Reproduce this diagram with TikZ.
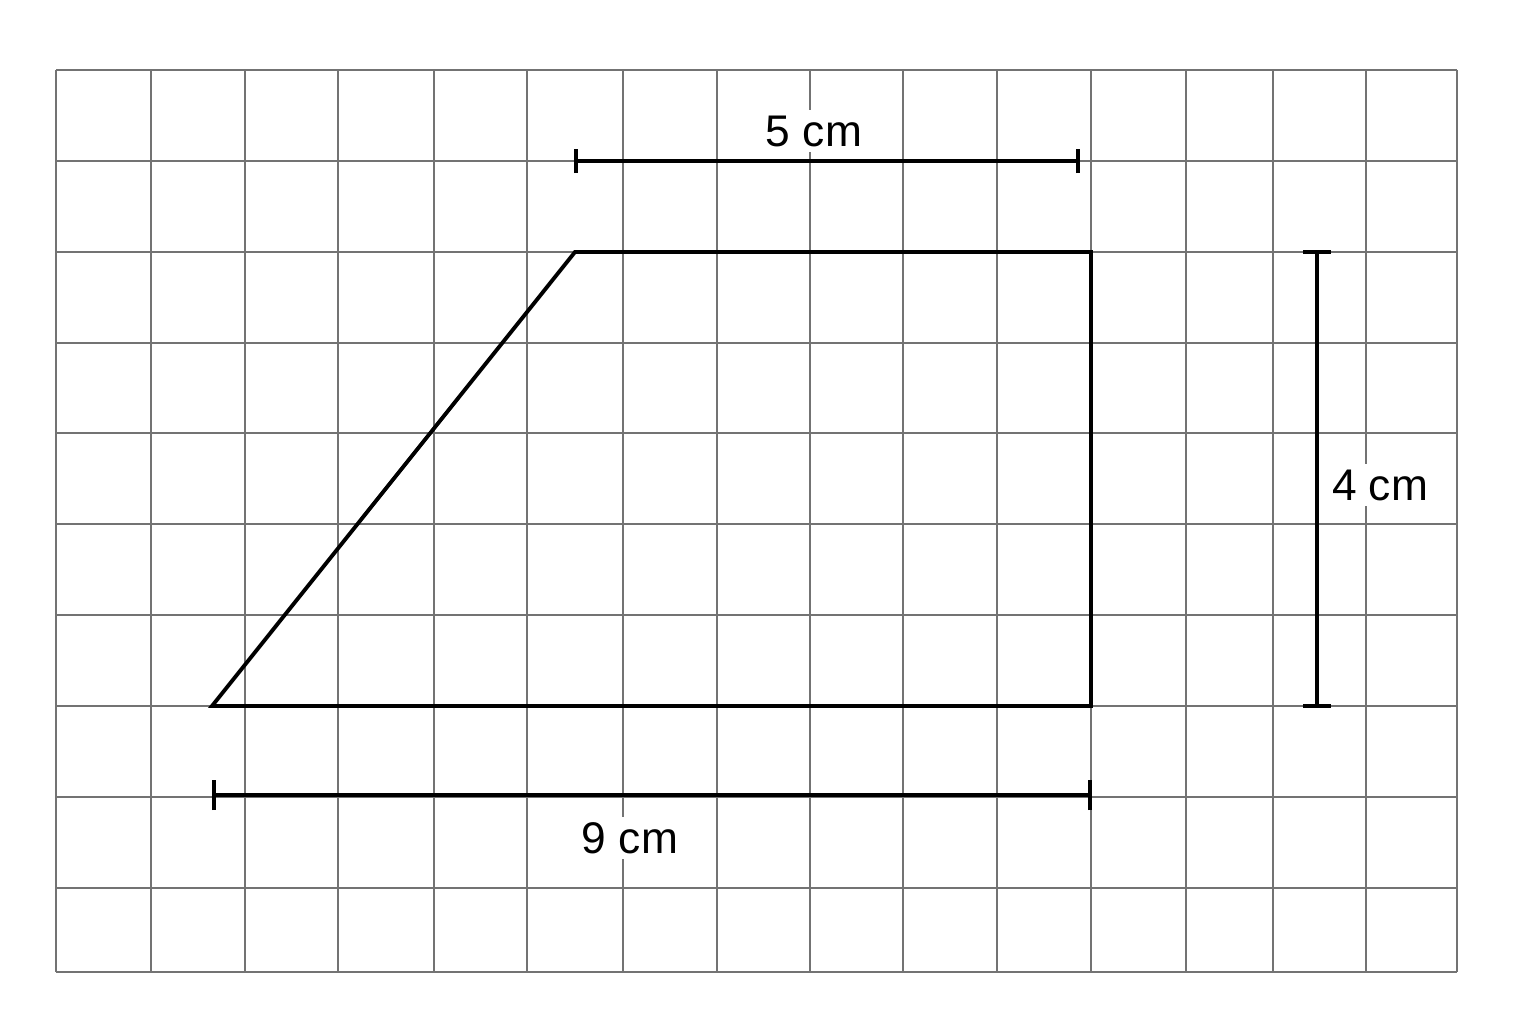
\documentclass[tikz,border=0pt]{standalone}
\usepackage{fontspec}
\setmainfont{Liberation Sans}
\begin{document}
\begin{tikzpicture}[x=0.01cm,y=-0.01cm,
  gridline/.style={draw=black!55,line width=0.35pt},
  shapeline/.style={draw=black,line width=1.1pt,line join=miter},
  dimline/.style={draw=black,line width=1pt},
  dimlabel/.style={fill=white,inner sep=1.5pt,font=\fontsize{12.6}{15}\selectfont}]
\useasboundingbox[fill=white] (0,0) rectangle (1536,1024);
% grid
\foreach \gx in {56,151,245,338,434,527,623,717,810,903,997,1091,1186,1273,1366,1457}
  \draw[gridline] (\gx,70) -- (\gx,972);
\foreach \gy in {70,161,252,343,433,524,615,706,797,888,972}
  \draw[gridline] (56,\gy) -- (1457,\gy);
% trapezoid
\coordinate (A) at (212,706);
\coordinate (B) at (575,252);
\coordinate (C) at (1091,252);
\coordinate (D) at (1091,706);
\draw[shapeline] (A) -- (B) -- (C) -- (D) -- cycle;
% top dimension 5 cm
\coordinate (t1) at (576,161);
\coordinate (t2) at (1078,161);
\draw[dimline] (t1) -- (t2);
\draw[dimline] ([yshift=-0.12cm]t1) -- ([yshift=0.12cm]t1);
\draw[dimline] ([yshift=-0.12cm]t2) -- ([yshift=0.12cm]t2);
\node[dimlabel] (l5) at (814,131) {5 cm};
% bottom dimension 9 cm
\coordinate (b1) at (214,795);
\coordinate (b2) at (1090,795);
\draw[dimline] (b1) -- (b2);
\draw[dimline] ([yshift=-0.15cm]b1) -- ([yshift=0.15cm]b1);
\draw[dimline] ([yshift=-0.15cm]b2) -- ([yshift=0.15cm]b2);
\node[dimlabel] (l9) at (630,838) {9 cm};
% right dimension 4 cm
\coordinate (r1) at (1317,252);
\coordinate (r2) at (1317,706);
\draw[dimline] (r1) -- (r2);
\draw[dimline] ([xshift=-0.14cm]r1) -- ([xshift=0.14cm]r1);
\draw[dimline] ([xshift=-0.14cm]r2) -- ([xshift=0.14cm]r2);
\node[dimlabel] (l4) at (1380,485) {4 cm};
\end{tikzpicture}
\end{document}
